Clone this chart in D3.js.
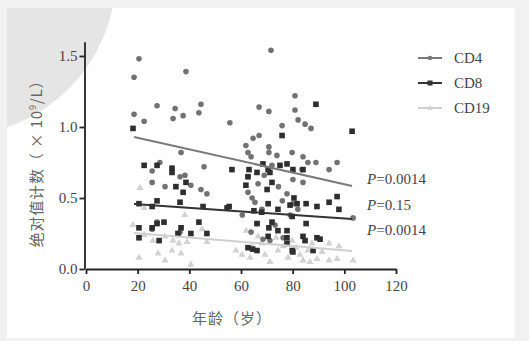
<!DOCTYPE html>
<html><head><meta charset="utf-8">
<script src="https://cdn.jsdelivr.net/npm/d3@7/dist/d3.min.js"></script>
<style>body{margin:0;background:#f1f1f1;}svg{display:block;}</style>
</head><body>
<svg id="c" width="529" height="341"></svg>
<script>
const seriesNames = ["CD4", "CD8", "CD19"];
const xTicks = [0, 20, 40, 60, 80, 100, 120];
const yTicks = [0.0, 0.5, 1.0, 1.5];
const pLabels = ["0.0014", "0.15", "0.0014"];

// [age, value]
const cd4 = [[20.5,1.48],[18.6,1.35],[38.7,1.39],[18.6,1.09],[22.5,1.04],[27.5,1.15],[34.5,1.13],[33.7,1.06],[37.6,1.08],[44.5,1.16],[43.7,1.10],[55.7,1.03],[67.0,1.14],[71.6,1.54],[70.8,1.11],[80.9,1.22],[80.9,1.12],[82.1,1.05],[84.8,1.02],[87.1,0.99],[75.9,1.01],[67.0,0.94],[64.7,0.92],[61.9,0.87],[62.7,0.82],[63.9,0.79],[70.8,0.86],[70.8,0.82],[73.9,0.80],[79.8,0.82],[84.0,0.79],[85.9,0.75],[89.0,0.75],[97.2,0.75],[94.1,0.70],[83.6,0.70],[36.8,0.82],[25.6,0.69],[28.6,0.75],[38.3,0.66],[45.7,0.72],[25.6,0.61],[30.6,0.58],[36.4,0.65],[40.6,0.59],[46.8,0.53],[44.5,0.56],[27.5,0.33],[25.6,0.28],[36.4,0.26],[72.0,0.73],[62.7,0.65],[66.6,0.60],[77.8,0.53],[62.7,0.54],[64.3,0.50],[65.4,0.47],[66.2,0.32],[63.9,0.26],[80.1,0.46],[80.1,0.63],[84.0,0.61],[103.4,0.36],[68.1,0.42],[73.2,0.31],[76.3,0.22],[71.2,0.20],[79.0,0.38],[68.5,0.21],[74.5,0.58],[69.0,0.66],[76.0,0.48],[82.0,0.42],[60.5,0.38]];
const cd8 = [[18.2,0.99],[89.0,1.16],[103.0,0.97],[75.9,0.94],[22.5,0.73],[27.5,0.73],[33.3,0.71],[33.3,0.68],[34.8,0.58],[38.7,0.61],[37.6,0.54],[36.4,0.47],[27.5,0.48],[25.6,0.44],[20.5,0.46],[45.3,0.44],[54.6,0.43],[20.5,0.29],[20.5,0.22],[25.6,0.29],[27.5,0.32],[30.2,0.33],[36.8,0.29],[35.6,0.25],[40.6,0.25],[43.7,0.33],[46.8,0.25],[28.3,0.20],[68.5,0.74],[75.1,0.73],[77.8,0.74],[56.5,0.70],[63.1,0.70],[66.2,0.68],[70.5,0.70],[80.1,0.70],[62.7,0.65],[71.2,0.68],[72.0,0.61],[70.1,0.56],[61.9,0.59],[70.5,0.46],[55.4,0.44],[74.3,0.42],[79.8,0.37],[66.2,0.32],[72.0,0.33],[70.8,0.29],[74.3,0.27],[77.8,0.27],[70.5,0.23],[77.8,0.22],[77.8,0.18],[62.7,0.15],[66.2,0.13],[64.5,0.14],[84.0,0.70],[85.2,0.46],[89.4,0.44],[94.1,0.47],[97.2,0.51],[97.9,0.42],[85.2,0.32],[84.0,0.23],[84.8,0.20],[89.4,0.22],[90.6,0.21],[80.1,0.12],[80.5,0.50],[81.7,0.46],[79.0,0.45],[87.9,0.13],[79.8,0.13],[65.0,0.41],[68.0,0.40]];
const cd19 = [[20.9,0.57],[22.5,0.43],[38.3,0.38],[18.2,0.31],[20.5,0.08],[27.9,0.11],[30.6,0.06],[33.7,0.20],[33.3,0.13],[36.8,0.11],[36.0,0.18],[39.1,0.19],[40.6,0.03],[25.9,0.20],[46.8,0.19],[22.5,0.24],[30.6,0.23],[94.1,0.18],[97.9,0.16],[94.1,0.06],[97.2,0.07],[103.4,0.06],[84.0,0.06],[89.4,0.07],[58.0,0.13],[60.4,0.10],[63.5,0.08],[68.1,0.18],[69.3,0.10],[71.2,0.05],[74.3,0.13],[76.3,0.16],[78.2,0.08],[81.3,0.15],[82.8,0.10],[85.9,0.13],[86.7,0.05],[91.4,0.12],[66.6,0.23],[73.6,0.22],[79.8,0.20],[87.5,0.18],[64.3,0.16],[45.0,0.28],[62.0,0.27]];

// fitted lines, endpoints
const cd4Fit = [[18.6,0.93],[103,0.585]];
const cd8Fit = [[18.6,0.458],[103,0.352]];
const cd19Fit = [[18.6,0.254],[103,0.127]];

const svg = d3.select("#c");
// panel
svg.append("rect").attr("x",7).attr("y",8).attr("width",508).attr("height",330).attr("fill","#fff");
svg.append("clipPath").attr("id","pc").append("rect").attr("x",7).attr("y",8).attr("width",508).attr("height",330);
svg.append("circle").attr("cx",-45).attr("cy",-25).attr("r",161).attr("fill","#e5e5e5").attr("clip-path","url(#pc)");

const x = d3.scaleLinear().domain([0,120]).range([86,396]);
const y = d3.scaleLinear().domain([0,1.6]).range([269,41.8]);

const serif = "'Liberation Serif','DejaVu Serif',serif";
const cjk = "'Noto Sans CJK SC','Noto Sans CJK JP',sans-serif";

// axes
const xa = svg.append("g").attr("transform","translate(0,269)")
  .call(d3.axisBottom(x).tickValues(xTicks).tickSize(5).tickSizeOuter(0).tickPadding(6).tickFormat(d3.format("d")));
const ya = svg.append("g").attr("transform","translate(84.5,0)")
  .call(d3.axisLeft(y).tickValues(yTicks).tickSize(5).tickSizeOuter(0).tickPadding(2).tickFormat(d3.format(".1f")));
[xa,ya].forEach(g=>{
  g.selectAll("path,line").attr("stroke","#222").attr("stroke-width",1.8);
  g.selectAll("text").attr("font-family",serif).attr("font-size",15).attr("fill","#444");
});

const plot = svg.append("g");
// CD19 triangles
plot.selectAll(".t").data(cd19).join("path")
  .attr("d", d3.symbol(d3.symbolTriangle, 22)())
  .attr("transform", d=>`translate(${x(d[0])},${y(d[1])})`)
  .attr("fill","#d2d2d2");
// CD4 circles
plot.selectAll(".c").data(cd4).join("circle")
  .attr("cx",d=>x(d[0])).attr("cy",d=>y(d[1])).attr("r",2.8).attr("fill","#727272");
// CD8 squares
plot.selectAll(".s").data(cd8).join("rect")
  .attr("x",d=>x(d[0])-2.8).attr("y",d=>y(d[1])-2.8).attr("width",5.6).attr("height",5.6).attr("fill","#2e2e2e");

const line = d3.line().x(d=>x(d[0])).y(d=>y(d[1]));
const fits = [[cd4Fit,"#7a7a7a"],[cd8Fit,"#333"],[cd19Fit,"#cfcfcf"]];
fits.forEach(([f,c])=>svg.append("path").attr("d",line(f)).attr("stroke",c).attr("stroke-width",2).attr("fill","none"));

// legend
const legCols = ["#7a7a7a","#333","#cfcfcf"];
const lg = svg.append("g");
seriesNames.forEach((n,i)=>{
  const yy = 58 + i*25;
  lg.append("line").attr("x1",418).attr("x2",442).attr("y1",yy).attr("y2",yy).attr("stroke",legCols[i]).attr("stroke-width",2);
  if(i===0) lg.append("circle").attr("cx",430).attr("cy",yy).attr("r",2.3).attr("fill",legCols[i]);
  if(i===1) lg.append("rect").attr("x",427.5).attr("y",yy-2.5).attr("width",5).attr("height",5).attr("fill",legCols[i]);
  if(i===2) lg.append("path").attr("d",d3.symbol(d3.symbolTriangle,14)()).attr("transform",`translate(430,${yy})`).attr("fill",legCols[i]);
  lg.append("text").attr("x",454).attr("y",yy+5).attr("font-family",serif).attr("font-size",15).attr("fill","#444").text(n);
});

// P labels
pLabels.forEach((p,i)=>{
  const t = svg.append("text").attr("x",367).attr("y",184+i*25.5).attr("font-family",serif).attr("font-size",15).attr("fill","#444");
  t.append("tspan").attr("font-style","italic").text("P");
  t.append("tspan").text("="+p);
});

// axis titles
svg.append("text").attr("x",232).attr("y",324).attr("text-anchor","middle")
  .attr("font-family",cjk).attr("font-size",15).attr("letter-spacing",1).attr("fill","#666").text("年龄（岁）");
const yt = svg.append("text").attr("transform","translate(42,160) rotate(-90)").attr("text-anchor","middle")
  .attr("font-family",cjk).attr("font-size",15).attr("letter-spacing",0.8).attr("fill","#666");
yt.append("tspan").text("绝对值计数（ × 10");
yt.append("tspan").attr("font-size",9).attr("dy",-6).text("9");
yt.append("tspan").attr("dy",6).text("/L）");
</script>
</body></html>
